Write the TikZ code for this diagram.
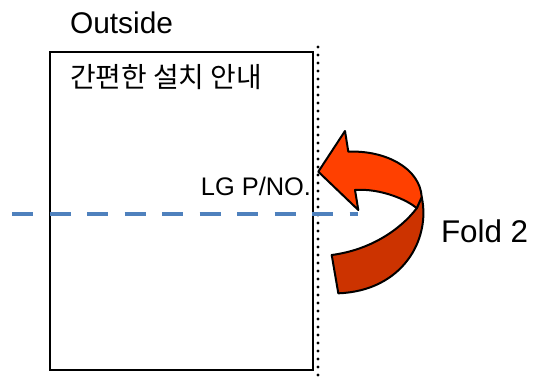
\documentclass[tikz,border=0pt]{standalone}
\usepackage{fontspec}
\setmainfont{Liberation Sans}
\newfontfamily\krfont{Noto Sans CJK KR}
\definecolor{foldorange}{RGB}{255,64,0}
\definecolor{folddark}{RGB}{204,51,0}
\definecolor{foldblue}{RGB}{79,129,189}
\tikzset{
  lbl/.style={inner sep=0pt, outer sep=0pt, text=black},
  arrowpart/.style={draw=black, line width=2bp, line join=round},
}
\begin{document}
\begin{tikzpicture}[x=1bp,y=-1bp]
\useasboundingbox (0,0) rectangle (539,381);
% sheet
\draw[line width=2bp] (50,52) rectangle (313,370);
% dotted fold line
\coordinate (dtop) at (318,47);
\coordinate (dbot) at (318,381);
\draw[line width=3.2bp, line cap=round, dash pattern=on 0bp off 8bp] (dtop) -- (dbot);
% dashed blue line
\coordinate (bl) at (12,214);
\coordinate (br) at (358,214);
\draw[foldblue, line width=4bp, dash pattern=on 21bp off 16.5bp] (bl) -- (br);
% curved arrow: back (dark) part
\fill[folddark, arrowpart] (416.7,208.3) -- (421.7,197)
  .. controls (431,240) and (402,291) .. (338.3,293.3)
  -- (331.7,255)
  .. controls (370,250) and (400,230) .. cycle;
% front (orange) part with head
\fill[foldorange, arrowpart] (318.3,171.7) -- (345,131) -- (348.3,151.7)
  .. controls (385,150) and (420,168) .. (421.7,197)
  -- (416.7,208.3)
  .. controls (408,200) and (380,188) .. (355,190)
  -- (358.3,210) -- cycle;
% texts
\node[lbl, anchor=base west, font=\fontsize{30}{32}\selectfont] (outside) at (70,33) {Outside};
\node[lbl, anchor=west, font=\krfont\fontsize{28}{30}\selectfont] (title) at (70,77.5) {간편한 설치 안내};
\node[lbl, anchor=base east, font=\fontsize{25.5}{27}\selectfont] (lgno) at (311,195) {LG P/NO.};
\node[lbl, anchor=base west, font=\fontsize{31.5}{33}\selectfont] (fold) at (441,242) {Fold 2};
\end{tikzpicture}
\end{document}
